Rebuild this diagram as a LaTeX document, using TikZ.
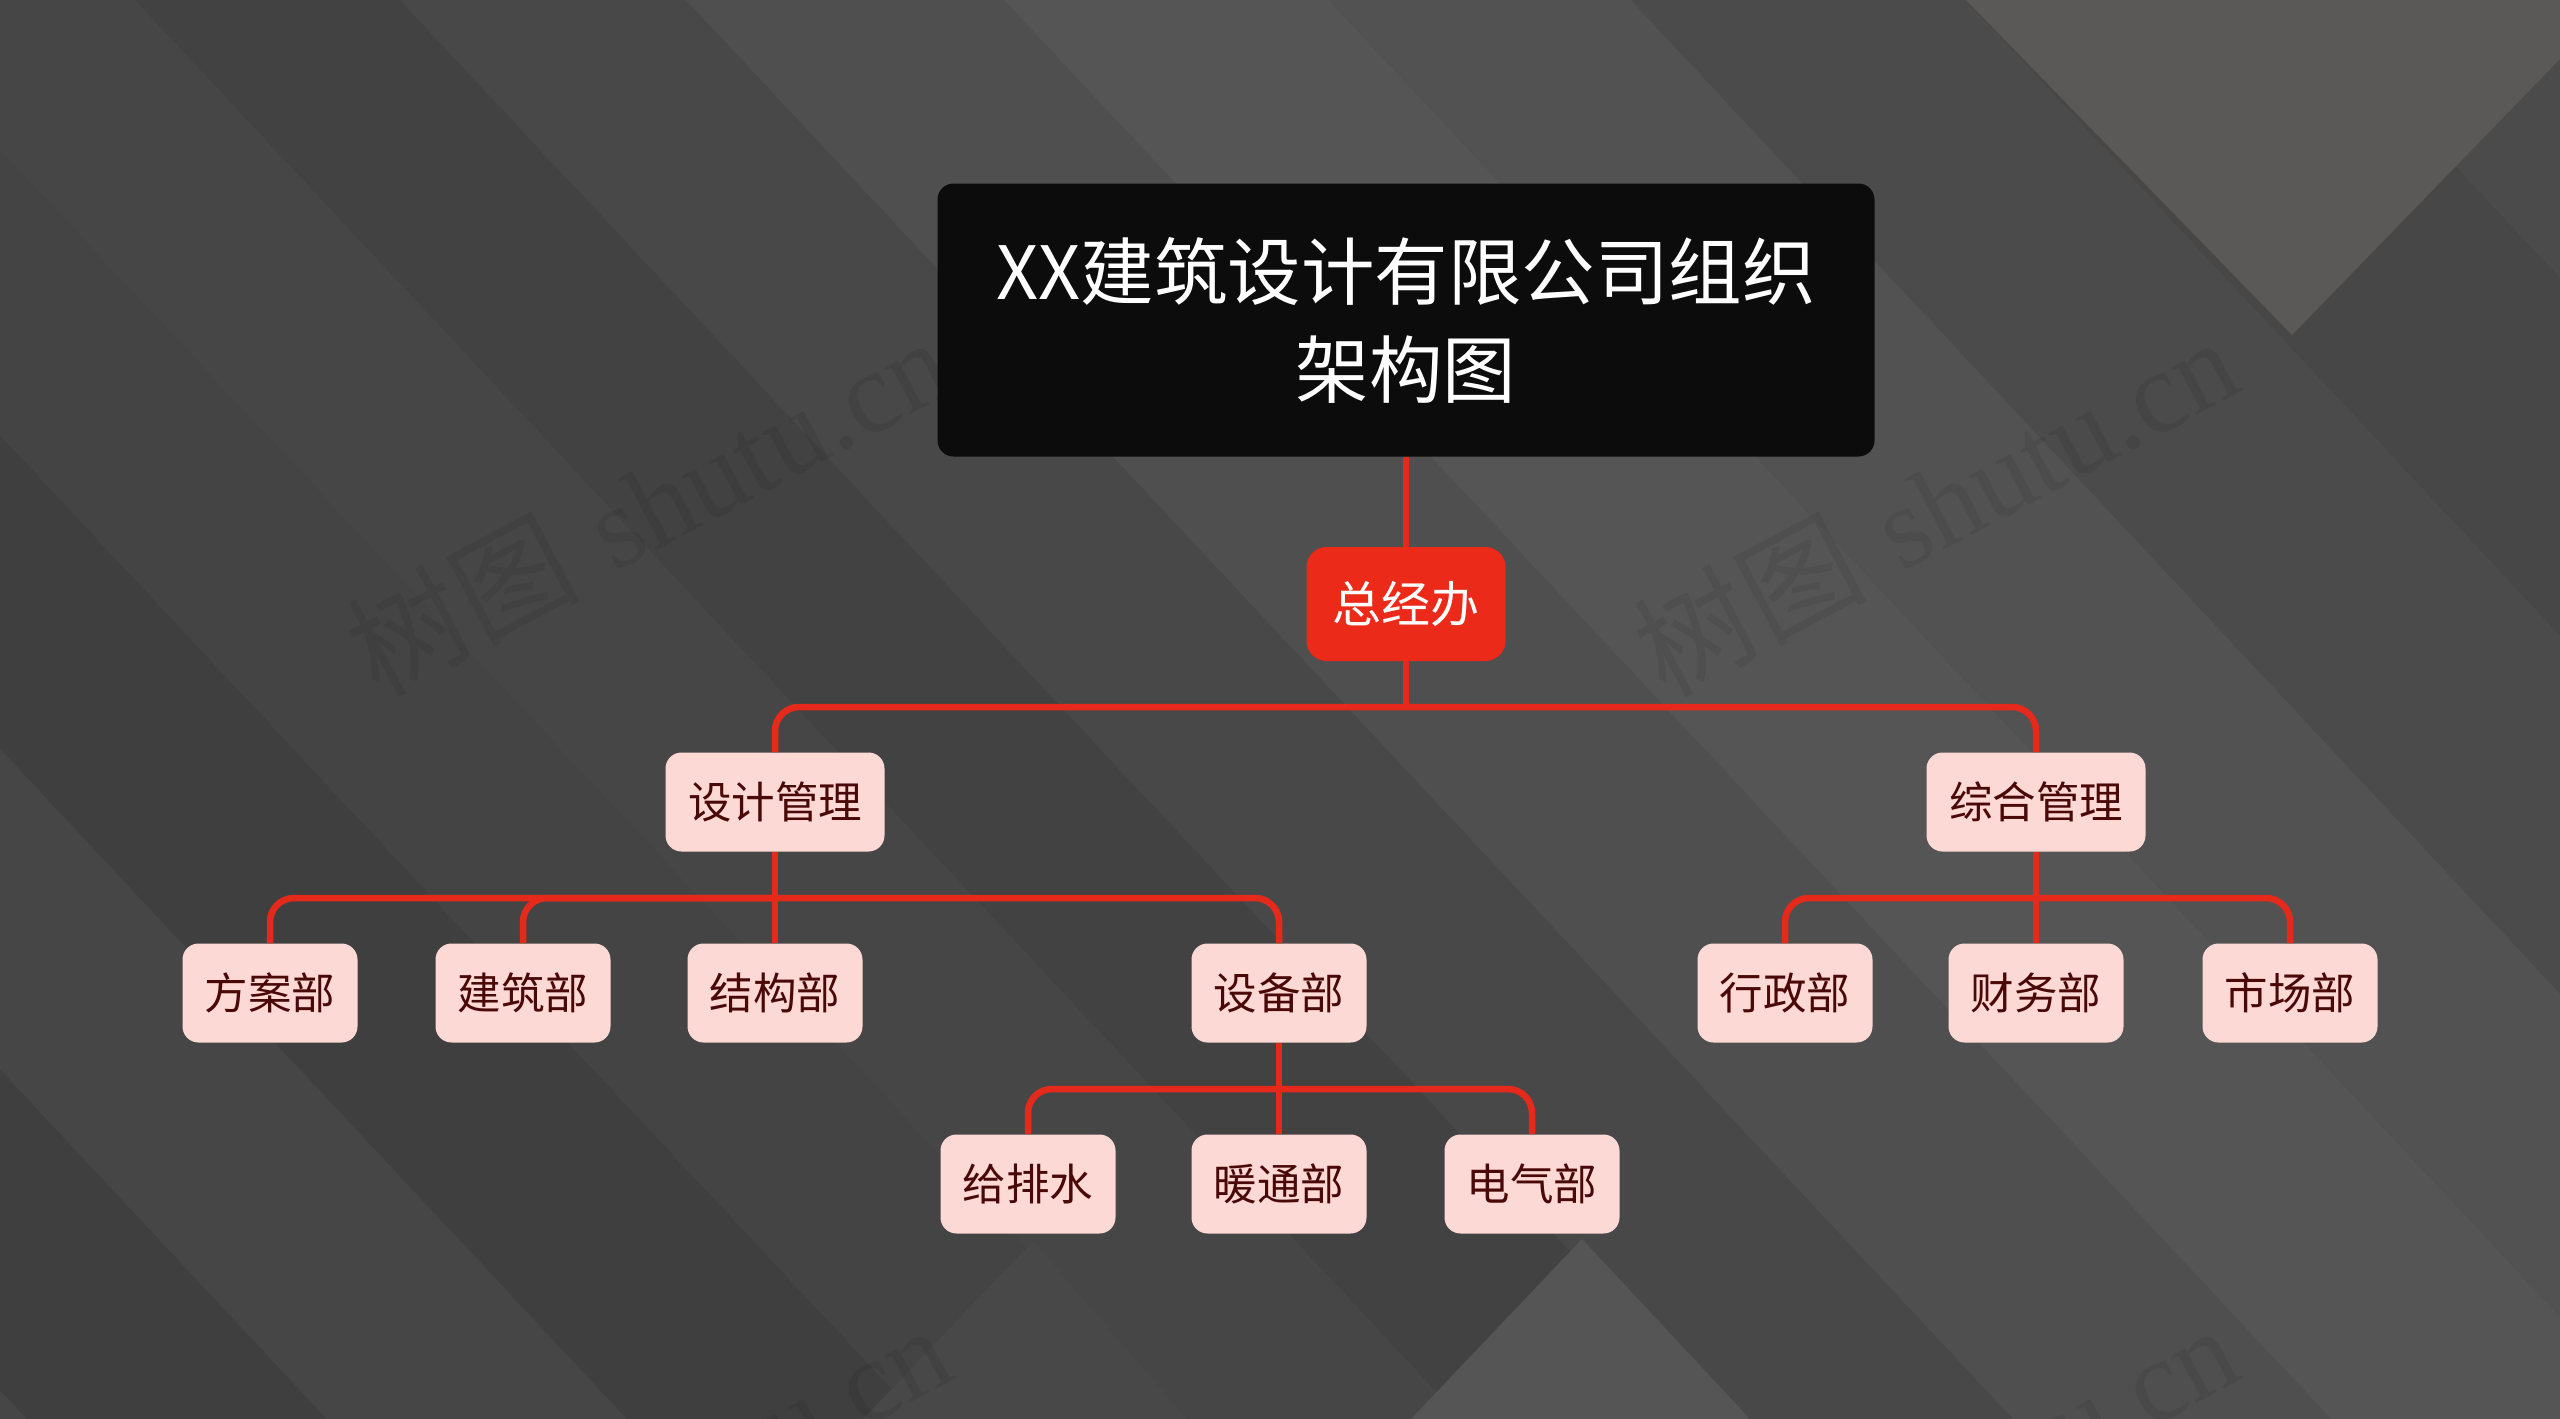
\documentclass[tikz,border=0pt]{standalone}
\usepackage{fontspec}
\newfontfamily\cjk{Noto Sans CJK SC}
\newfontfamily\wmserif{Liberation Serif}
\definecolor{linered}{HTML}{E52A1C}
\definecolor{bossred}{HTML}{EC2A1A}
\definecolor{titlebg}{HTML}{0C0C0C}
\definecolor{leaffill}{HTML}{FDD9D5}
\definecolor{leaftext}{HTML}{4A0808}
\definecolor{bgA}{HTML}{464646}
\definecolor{bgB}{HTML}{3F3F3F}
\definecolor{bgC}{HTML}{444444}
\definecolor{bgD}{HTML}{424242}
\definecolor{bgE}{HTML}{484848}
\definecolor{bgF}{HTML}{4F4F4F}
\definecolor{bgG}{HTML}{555555}
\definecolor{bgH}{HTML}{525252}
\definecolor{bgI}{HTML}{4B4B4B}
\definecolor{bgJ}{HTML}{474747}
\definecolor{bgV}{HTML}{5A5957}
\tikzset{
  conn/.style={draw=linered, line width=3.25pt, rounded corners=12pt},
  titlebox/.style={fill=titlebg, text=white, rounded corners=8pt, minimum width=468.5pt, minimum height=136.5pt, align=center, inner sep=0pt, font=\cjk\fontsize{36.75}{49}\selectfont},
  bossbox/.style={fill=bossred, text=white, rounded corners=10pt, minimum width=99.5pt, minimum height=57pt, inner sep=0pt, font=\cjk\fontsize{24.5}{29}\selectfont, text height=20.6pt, text depth=2.6pt},
  midbox/.style={fill=leaffill, text=leaftext, rounded corners=8pt, minimum width=109.5pt, minimum height=49.5pt, inner sep=0pt, font=\cjk\fontsize{21.75}{26}\selectfont, text height=18.3pt, text depth=2.3pt},
  leafbox/.style={midbox, minimum width=87.5pt},
  wmark/.style={text=black, opacity=0.07, rotate=28, inner sep=0pt, font=\fontsize{58}{60}\selectfont}
}
\begin{document}
\begin{tikzpicture}[x=0.5pt,y=-0.5pt]
\useasboundingbox (0,0) rectangle (2560,1419);
\begin{scope}
\clip (0,0) rectangle (2560,1419);
\fill[bgA] (0,0) rectangle (2560,1419);
\foreach \a/\b/\c in {-1700/-1300/bgA,-1300/-1000/bgB,-1000/-700/bgA,-700/-407/bgB,-407/-140/bgC,-140/135/bgA,135/400/bgD,400/686/bgE,686/1004/bgF,1004/1329/bgG,1329/1631/bgH,1631/1966/bgI,1966/2300/bgJ,2300/2800/bgI}
  {\fill[\c] (\a,0) -- (\b,0) -- (\b+1327,1419) -- (\a+1327,1419) -- cycle;}
\fill[bgV] (1966,0) -- (2560,0) -- (2560,59) -- (2292,335) -- cycle;
\fill[bgE] (1033,1241) -- (863,1419) -- (1187,1419) -- cycle;
\fill[bgG] (1582,1239) -- (1411,1419) -- (1750,1419) -- cycle;
\node[wmark] (wm1) at (648,505) {{\cjk 树图} {\wmserif shutu.cn}};
\node[wmark] (wm2) at (1935,505) {{\cjk 树图} {\wmserif shutu.cn}};
\node[wmark] (wm3) at (648,1493) {{\cjk 树图} {\wmserif shutu.cn}};
\node[wmark] (wm4) at (1935,1493) {{\cjk 树图} {\wmserif shutu.cn}};
\end{scope}

\node[titlebox] (title) at (1406,320) {XX建筑设计有限公司组织\\架构图};
\node[bossbox] (zjb) at (1406,604) {总经办};
\node[midbox] (sjgl) at (775,802) {设计管理};
\node[midbox] (zhgl) at (2036,802) {综合管理};
\node[leafbox] (fab) at (270,993) {方案部};
\node[leafbox] (jzb) at (523,993) {建筑部};
\node[leafbox] (jgb) at (775,993) {结构部};
\node[leafbox] (sbb) at (1279,993) {设备部};
\node[leafbox] (xzb) at (1785,993) {行政部};
\node[leafbox] (cwb) at (2036,993) {财务部};
\node[leafbox] (scb) at (2290,993) {市场部};
\node[leafbox] (gps) at (1028,1184) {给排水};
\node[leafbox] (ntb) at (1279,1184) {暖通部};
\node[leafbox] (dqb) at (1532,1184) {电气部};

\coordinate (j0) at (1406,707);
\coordinate (j1) at (775,898);
\coordinate (j2) at (2036,898);
\coordinate (j3) at (1279,1089);

\draw[conn] (title.south) -- (zjb.north);
\draw[conn] (zjb.south) -- (j0);
\draw[conn] (j0) -| (sjgl.north);
\draw[conn] (j0) -| (zhgl.north);
\draw[conn] (sjgl.south) -- (jgb.north);
\draw[conn] (j1) -| (fab.north);
\draw[conn] (j1) -| (jzb.north);
\draw[conn] (j1) -| (sbb.north);
\draw[conn] (zhgl.south) -- (cwb.north);
\draw[conn] (j2) -| (xzb.north);
\draw[conn] (j2) -| (scb.north);
\draw[conn] (sbb.south) -- (ntb.north);
\draw[conn] (j3) -| (gps.north);
\draw[conn] (j3) -| (dqb.north);
\end{tikzpicture}
\end{document}
